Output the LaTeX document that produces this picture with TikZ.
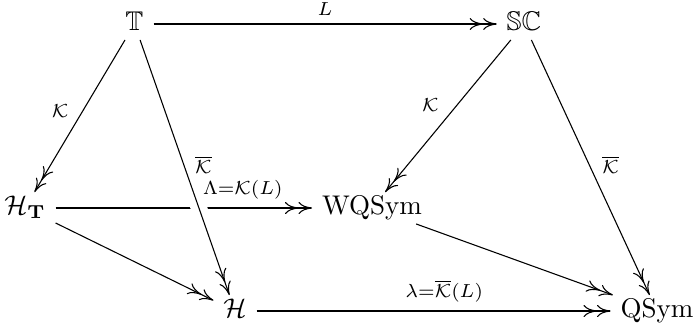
\documentclass[tikz,border=0pt]{standalone}
\usepackage{amssymb}
\usetikzlibrary{arrows.meta}
\tikzset{
  obj/.style={inner xsep=3.5pt, inner ysep=1.2pt, text height=7pt, text depth=2pt},
  lbl/.style={inner sep=3pt},
  onto/.style={->>, >={Computer Modern Rightarrow[length=5pt, width=4.4pt]}},
  crossing/.style={preaction={draw=white, -, line width=6pt}},
}
\begin{document}
\begin{tikzpicture}[x=0.37pt, y=-0.37pt]
      \useasboundingbox (0,0) rectangle (694,327);
      % objects
      \node[obj] (T) at (134.5,24) {$\mathbb{T}$};
      \node[obj] (SC) at (524,24) {$\mathbb{SC}$};
      \node[obj] (HT) at (25,208) {$\mathcal{H}_{\mathbf{T}}$};
      \node[obj] (WQ) at (372,208) {$\mathrm{WQSym}$};
      \node[obj] (H) at (235,311) {$\mathcal{H}$};
      \node[obj] (QS) at (657,311) {$\mathrm{QSym}$};
      % maps (the one under the crossing first)
      \draw[onto] (HT) -- node[lbl, above, pos=0.73] {$\scriptstyle\Lambda=\mathcal{K}(L)$} (WQ);
      \draw[onto, crossing] (T) -- node[lbl, right=1pt, pos=0.49] {$\scriptstyle\overline{\mathcal{K}}$} (H);
      \draw[onto] (T) -- node[lbl, above] {$\scriptstyle L$} (SC);
      \draw[onto] (T) -- node[lbl, left=2pt, pos=0.47] {$\scriptstyle\mathcal{K}$} (HT);
      \draw[onto] (SC) -- node[lbl, left=3.5pt, pos=0.43] {$\scriptstyle\mathcal{K}$} (WQ);
      \draw[onto] (SC) -- node[lbl, right=1.6pt, pos=0.49] {$\scriptstyle\overline{\mathcal{K}}$} (QS);
      \draw[onto] (HT) -- (H);
      \draw[onto] (WQ) -- (QS);
      \draw[onto] (H) -- node[lbl, above, pos=0.53] {$\scriptstyle\lambda=\overline{\mathcal{K}}(L)$} (QS);
\end{tikzpicture}
\end{document}
